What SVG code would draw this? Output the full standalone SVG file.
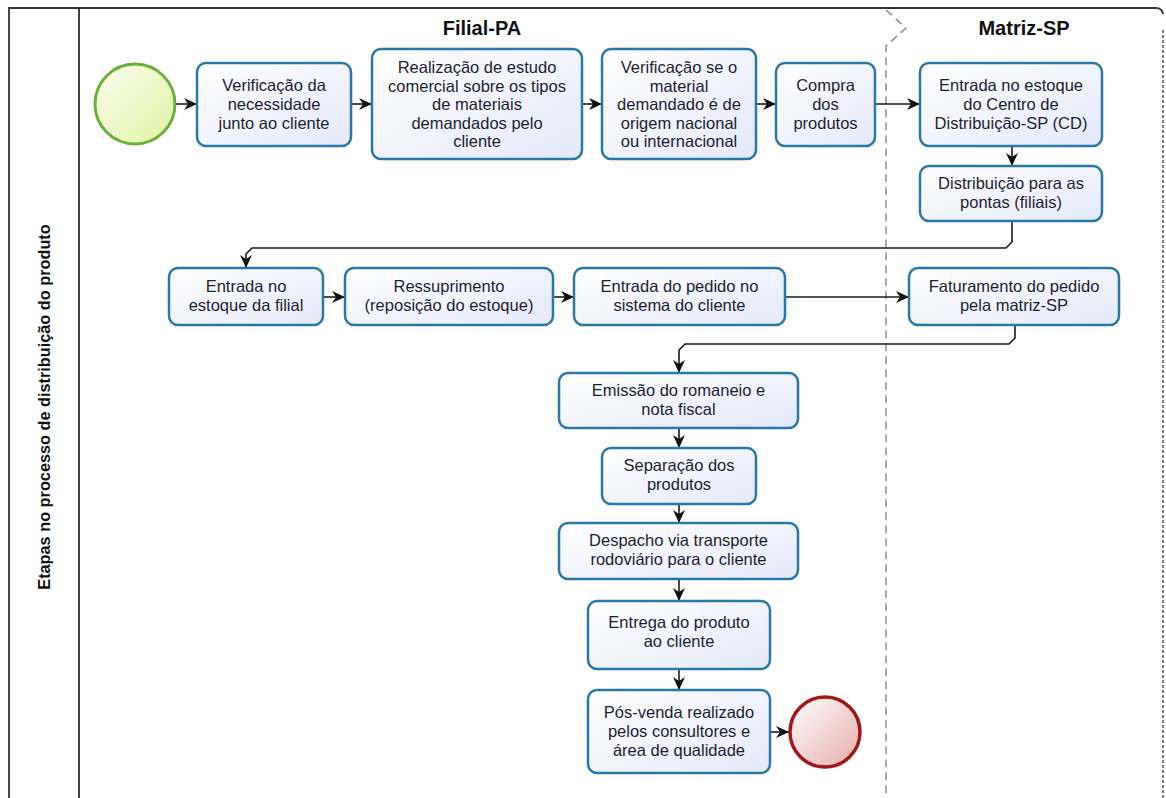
<svg xmlns="http://www.w3.org/2000/svg" width="1166" height="798" viewBox="0 0 1166 798">
<style>
.box{fill:url(#gBox);stroke:#2a78a8;stroke-width:2.5}
.t{font-family:"Liberation Sans",Arial,sans-serif;font-size:16.5px;fill:#1e1e32;text-anchor:middle}
.h{font-family:"Liberation Sans",Arial,sans-serif;font-size:20px;font-weight:bold;fill:#111;text-anchor:middle}
.c{fill:none;stroke:#1a1a1a;stroke-width:1.6;marker-end:url(#arr)}
.dash{fill:none;stroke:#808080;stroke-width:1.3;stroke-dasharray:8 5}
</style>
<defs>
<linearGradient id="gBox" x1="0" y1="0" x2="1" y2="1">
<stop offset="0" stop-color="#ffffff"/>
<stop offset="1" stop-color="#e4e9f8"/>
</linearGradient>
<linearGradient id="gStart" x1="0" y1="0" x2="1" y2="1">
<stop offset="0" stop-color="#fbfdf0"/>
<stop offset="1" stop-color="#e0f3a2"/>
</linearGradient>
<linearGradient id="gEnd" x1="0" y1="0" x2="1" y2="1">
<stop offset="0" stop-color="#ffffff"/>
<stop offset="1" stop-color="#e6acac"/>
</linearGradient>
<marker id="arr" viewBox="0 0 13 12" refX="13" refY="6" markerWidth="13" markerHeight="12" markerUnits="userSpaceOnUse" orient="auto">
<path d="M0,0 L13,6 L0,12 L4,6 z" fill="#111"/>
</marker>
</defs>

<g id="frame">
<path d="M9,798 V8 H1156 Q1162,8 1163,14" fill="none" stroke="#333" stroke-width="1.8"/>
<line x1="1163" y1="30" x2="1163" y2="798" stroke="#555" stroke-width="1.5" stroke-dasharray="3 2"/>
<line x1="79" y1="8" x2="79" y2="798" stroke="#111" stroke-width="1.6"/>
<text transform="translate(50,407) rotate(-90)" style="font-family:'Liberation Sans',Arial,sans-serif;font-size:16.3px;font-weight:bold;fill:#111;text-anchor:middle">Etapas no processo de distribuição do produto</text>
<path class="dash" d="M886,10 L906,28 L886,46 V798"/>
<text class="h" x="482" y="35">Filial-PA</text>
<text class="h" x="1024" y="35">Matriz-SP</text>
</g>

<g id="connectors">
<path class="c" d="M176,104 H197"/>
<path class="c" d="M351,104 H372"/>
<path class="c" d="M582,104 H602"/>
<path class="c" d="M756,104 H776"/>
<path class="c" d="M875,104 H920"/>
<path class="c" d="M1012,146 V166"/>
<path class="c" d="M1012,221 V242 L1006,248 H252 L246,254 V268"/>
<path class="c" d="M323,297 H345"/>
<path class="c" d="M553,297 H574"/>
<path class="c" d="M785,297 H909"/>
<path class="c" d="M1015,325 V338 L1009,344 H685 L679,350 V373"/>
<path class="c" d="M679,428 V448"/>
<path class="c" d="M679,504 V523"/>
<path class="c" d="M679,579 V601"/>
<path class="c" d="M679,669 V690"/>
<path class="c" d="M770,732 H789"/>
</g>

<g id="start"><circle cx="135" cy="104" r="40" fill="url(#gStart)" stroke="#6ab03a" stroke-width="3"/></g>

<g id="n1"><rect class="box" x="197" y="63" width="154" height="83" rx="9"/>
<text class="t" x="274"><tspan x="274" y="91">Verificação da</tspan><tspan x="274" y="110">necessidade</tspan><tspan x="274" y="129">junto ao cliente</tspan></text></g>

<g id="n2"><rect class="box" x="372" y="49" width="210" height="110" rx="9"/>
<text class="t"><tspan x="477" y="73">Realização de estudo</tspan><tspan x="477" y="91.5">comercial sobre os tipos</tspan><tspan x="477" y="110">de materiais</tspan><tspan x="477" y="128.5">demandados pelo</tspan><tspan x="477" y="147">cliente</tspan></text></g>

<g id="n3"><rect class="box" x="602" y="49" width="154" height="110" rx="9"/>
<text class="t"><tspan x="679" y="73">Verificação se o</tspan><tspan x="679" y="91.5">material</tspan><tspan x="679" y="110">demandado é de</tspan><tspan x="679" y="128.5">origem nacional</tspan><tspan x="679" y="147">ou internacional</tspan></text></g>

<g id="n4"><rect class="box" x="776" y="63" width="99" height="83" rx="9"/>
<text class="t"><tspan x="825.5" y="91">Compra</tspan><tspan x="825.5" y="110">dos</tspan><tspan x="825.5" y="129">produtos</tspan></text></g>

<g id="n5"><rect class="box" x="920" y="63" width="182" height="83" rx="9"/>
<text class="t"><tspan x="1011" y="91">Entrada no estoque</tspan><tspan x="1011" y="110">do Centro de</tspan><tspan x="1011" y="129">Distribuição-SP (CD)</tspan></text></g>

<g id="n6"><rect class="box" x="920" y="166" width="182" height="55" rx="9"/>
<text class="t"><tspan x="1011" y="189">Distribuição para as</tspan><tspan x="1011" y="208">pontas (filiais)</tspan></text></g>

<g id="n7"><rect class="box" x="169" y="268" width="154" height="57" rx="9"/>
<text class="t"><tspan x="246" y="292">Entrada no</tspan><tspan x="246" y="311">estoque da filial</tspan></text></g>

<g id="n8"><rect class="box" x="345" y="268" width="208" height="57" rx="9"/>
<text class="t"><tspan x="449" y="292">Ressuprimento</tspan><tspan x="449" y="311">(reposição do estoque)</tspan></text></g>

<g id="n9"><rect class="box" x="574" y="268" width="211" height="57" rx="9"/>
<text class="t"><tspan x="679.5" y="292">Entrada do pedido no</tspan><tspan x="679.5" y="311">sistema do cliente</tspan></text></g>

<g id="n10"><rect class="box" x="909" y="268" width="210" height="57" rx="9"/>
<text class="t"><tspan x="1014" y="292">Faturamento do pedido</tspan><tspan x="1014" y="311">pela matriz-SP</tspan></text></g>

<g id="n11"><rect class="box" x="559" y="373" width="239" height="55" rx="9"/>
<text class="t"><tspan x="678.5" y="396">Emissão do romaneio e</tspan><tspan x="678.5" y="415">nota fiscal</tspan></text></g>

<g id="n12"><rect class="box" x="602" y="448" width="154" height="56" rx="9"/>
<text class="t"><tspan x="679" y="471">Separação dos</tspan><tspan x="679" y="490">produtos</tspan></text></g>

<g id="n13"><rect class="box" x="559" y="523" width="239" height="56" rx="9"/>
<text class="t"><tspan x="678.5" y="546">Despacho via transporte</tspan><tspan x="678.5" y="565">rodoviário para o cliente</tspan></text></g>

<g id="n14"><rect class="box" x="588" y="601" width="182" height="68" rx="9"/>
<text class="t"><tspan x="679" y="628">Entrega do produto</tspan><tspan x="679" y="647">ao cliente</tspan></text></g>

<g id="n15"><rect class="box" x="588" y="690" width="182" height="83" rx="9"/>
<text class="t"><tspan x="679" y="718">Pós-venda realizado</tspan><tspan x="679" y="737">pelos consultores e</tspan><tspan x="679" y="756">área de qualidade</tspan></text></g>

<g id="end"><circle cx="825" cy="732" r="35" fill="url(#gEnd)" stroke="#a01818" stroke-width="3.5"/></g>
</svg>
